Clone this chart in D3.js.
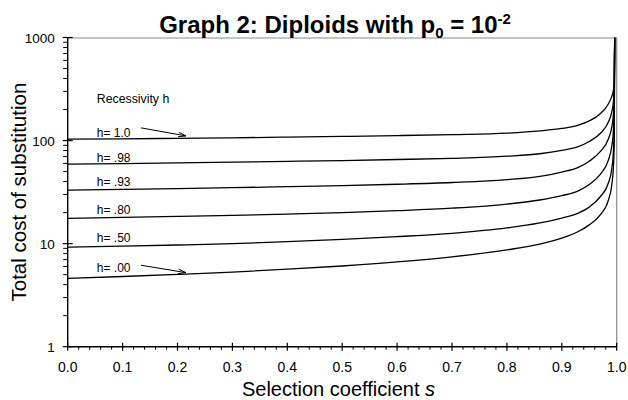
<!DOCTYPE html>
<html><head><meta charset="utf-8">
<script src="https://cdn.jsdelivr.net/npm/d3@7"></script>
<style>
html,body{margin:0;padding:0;background:#fff;}
text{font-family:"Liberation Sans",Arial,Helvetica,sans-serif;fill:#000;}
</style></head>
<body>
<svg id="chart" width="628" height="400"></svg>
<script>
// ---- data ----
const sValues = [0, 0.1, 0.2, 0.3, 0.4, 0.5, 0.6, 0.7, 0.8, 0.86, 0.9, 0.93, 0.95, 0.97, 0.985, 0.991, 0.994, 0.9956, 0.9963];
const costH100 = [103, 104, 105.2, 106.4, 108, 109.8, 111.8, 114.3, 118, 124, 131, 141, 155, 182, 228, 268, 310, 380, 1000];
const costH098 = [59, 59.8, 60.7, 61.7, 62.8, 64, 65.5, 67.3, 70.5, 74.5, 80.5, 87.5, 98, 117, 152, 190, 240, 340, 1000];
const costH093 = [33, 33.6, 34.2, 34.9, 35.7, 36.6, 37.7, 39.2, 41.8, 45, 49.5, 55, 63, 78, 104, 135, 180, 290, 1000];
const costH080 = [17.6, 17.95, 18.35, 18.8, 19.35, 20, 20.9, 22.1, 24.2, 26.5, 29.2, 32.5, 37.5, 47, 65, 88, 125, 220, 1000];
const costH050 = [9.25, 9.45, 9.7, 10.0, 10.45, 11.0, 11.7, 12.6, 14.2, 15.9, 17.7, 19.8, 22.6, 28.5, 39, 53, 78, 160, 1000];
const costH000 = [4.6, 4.8, 5.03, 5.3, 5.65, 6.07, 6.64, 7.45, 8.7, 9.9, 11.3, 13.1, 15.2, 19, 26.6, 37, 55, 100, 1000];
const seriesLabels = ["h= 1.0", "h= .98", "h= .93", "h= .80", "h= .50", "h= .00"];
const xTicks = [0, 0.1, 0.2, 0.3, 0.4, 0.5, 0.6, 0.7, 0.8, 0.9, 1.0];
const yTicks = [1, 10, 100, 1000];
const titleText = "Graph 2: Diploids with p";
const legendTitle = "Recessivity h";
const xLabel = "Selection coefficient ";
const yLabel = "Total cost of substitution";

const allSeries = [costH100, costH098, costH093, costH080, costH050, costH000];

// ---- layout ----
const svg = d3.select("#chart");
const L = 67.7, R = 616.7, T = 37.5, B = 346.7;
const x = d3.scaleLinear().domain([0, 1]).range([L, R]);
const y = d3.scaleLog().domain([1, 1000]).range([B, T]);

svg.append("defs").append("clipPath").attr("id", "clip")
  .append("rect").attr("x", L).attr("y", T).attr("width", R - L).attr("height", B - T);

// frame (top & right, gray)
svg.append("line").attr("x1", L).attr("x2", R).attr("y1", T + 0.5).attr("y2", T + 0.5)
  .attr("stroke", "#8a8a8a").attr("stroke-width", 1);
svg.append("line").attr("x1", R).attr("x2", R).attr("y1", T).attr("y2", B)
  .attr("stroke", "#8a8a8a").attr("stroke-width", 1.2);

// curves
const line = d3.line().x((d, i) => x(sValues[i])).y(d => y(d)).curve(d3.curveMonotoneX);
svg.append("g").attr("clip-path", "url(#clip)")
  .selectAll("path").data(allSeries).join("path")
  .attr("d", d => line(d)).attr("fill", "none").attr("stroke", "#000").attr("stroke-width", 1.3);

// x axis
const minorX = d3.range(0, 50).map(i => i / 50).filter(v => Math.round(v * 50) % 5 !== 0);
const gx = svg.append("g").attr("transform", `translate(0,${B})`);
gx.append("line").attr("x1", L).attr("x2", R).attr("y1", 0).attr("y2", 0).attr("stroke", "#000").attr("stroke-width", 1.4);
gx.selectAll("line.minor").data(minorX).join("line").attr("class", "minor")
  .attr("x1", d => x(d)).attr("x2", d => x(d)).attr("y1", 0).attr("y2", 3).attr("stroke", "#000").attr("stroke-width", 1);
gx.selectAll("line.major").data(xTicks).join("line").attr("class", "major")
  .attr("x1", d => x(d)).attr("x2", d => x(d)).attr("y1", -4).attr("y2", 4).attr("stroke", "#000").attr("stroke-width", 1.2);
gx.selectAll("text").data(xTicks).join("text")
  .attr("x", d => x(d)).attr("y", 25).attr("text-anchor", "middle").attr("font-size", 14)
  .text(d => d3.format(".1f")(d));

// y axis
const minorY = [];
[1, 10, 100].forEach(dec => { for (let k = 2; k <= 9; k++) minorY.push(dec * k); });
const gy = svg.append("g").attr("transform", `translate(${L},0)`);
gy.append("line").attr("x1", 0).attr("x2", 0).attr("y1", T).attr("y2", B).attr("stroke", "#000").attr("stroke-width", 1.4);
gy.selectAll("line.minor").data(minorY).join("line").attr("class", "minor")
  .attr("x1", -4.5).attr("x2", 0).attr("y1", d => y(d)).attr("y2", d => y(d)).attr("stroke", "#000").attr("stroke-width", 1);
gy.selectAll("line.major").data(yTicks).join("line").attr("class", "major")
  .attr("x1", -5).attr("x2", 5).attr("y1", d => y(d)).attr("y2", d => y(d)).attr("stroke", "#000").attr("stroke-width", 1.2);
gy.selectAll("text").data(yTicks).join("text")
  .attr("x", -13).attr("y", d => y(d) + 5).attr("text-anchor", "end").attr("font-size", 13.5)
  .text(d => d);

// title
const title = svg.append("text").attr("x", 335).attr("y", 33).attr("text-anchor", "middle")
  .attr("font-size", 24).attr("font-weight", "bold");
title.append("tspan").text(titleText);
title.append("tspan").attr("font-size", 15).attr("dy", 5).text("0");
title.append("tspan").attr("dy", -5).text(" = 10");
title.append("tspan").attr("font-size", 15).attr("dy", -9).text("-2");

// axis labels
const xl = svg.append("text").attr("x", 338.5).attr("y", 395.5).attr("text-anchor", "middle").attr("font-size", 20);
xl.append("tspan").text(xLabel);
xl.append("tspan").attr("font-style", "italic").text("s");
svg.append("text").attr("transform", `translate(25.5,${(T + B) / 2}) rotate(-90)`)
  .attr("text-anchor", "middle").attr("font-size", 20.5).text(yLabel);

// legend / annotations
const labelS = 0.053;
const labelGap = [2.4, 2.2, 4, 4.6, 5.4, 6.2];
svg.append("text").attr("x", x(labelS)).attr("y", 102.7).attr("font-size", 12.3).text(legendTitle);
svg.selectAll("text.lab").data(seriesLabels).join("text").attr("class", "lab")
  .attr("x", x(labelS)).attr("y", (d, i) => y(allSeries[i][0]) - labelGap[i])
  .attr("font-size", 12).text(d => d);

// arrows (data-space anchors)
const arrows = [
  {s0: 0.1335, v0: 132.8, s1: 0.2155, v1: 111},
  {s0: 0.1335, v0: 6.17, s1: 0.2155, v1: 5.23}
];
arrows.forEach(a => {
  const x0 = x(a.s0), y0 = y(a.v0), x1 = x(a.s1), y1 = y(a.v1);
  const ang = Math.atan2(y1 - y0, x1 - x0);
  const hl = 8, ha = 0.28;
  svg.append("line").attr("x1", x0).attr("y1", y0).attr("x2", x1).attr("y2", y1)
    .attr("stroke", "#000").attr("stroke-width", 1);
  const p1 = [x1 - hl * Math.cos(ang - ha), y1 - hl * Math.sin(ang - ha)];
  const p2 = [x1 - hl * Math.cos(ang + ha), y1 - hl * Math.sin(ang + ha)];
  svg.append("path").attr("d", `M${p1[0]},${p1[1]}L${x1},${y1}L${p2[0]},${p2[1]}`)
    .attr("fill", "none").attr("stroke", "#000").attr("stroke-width", 1);
});
</script>
</body></html>
